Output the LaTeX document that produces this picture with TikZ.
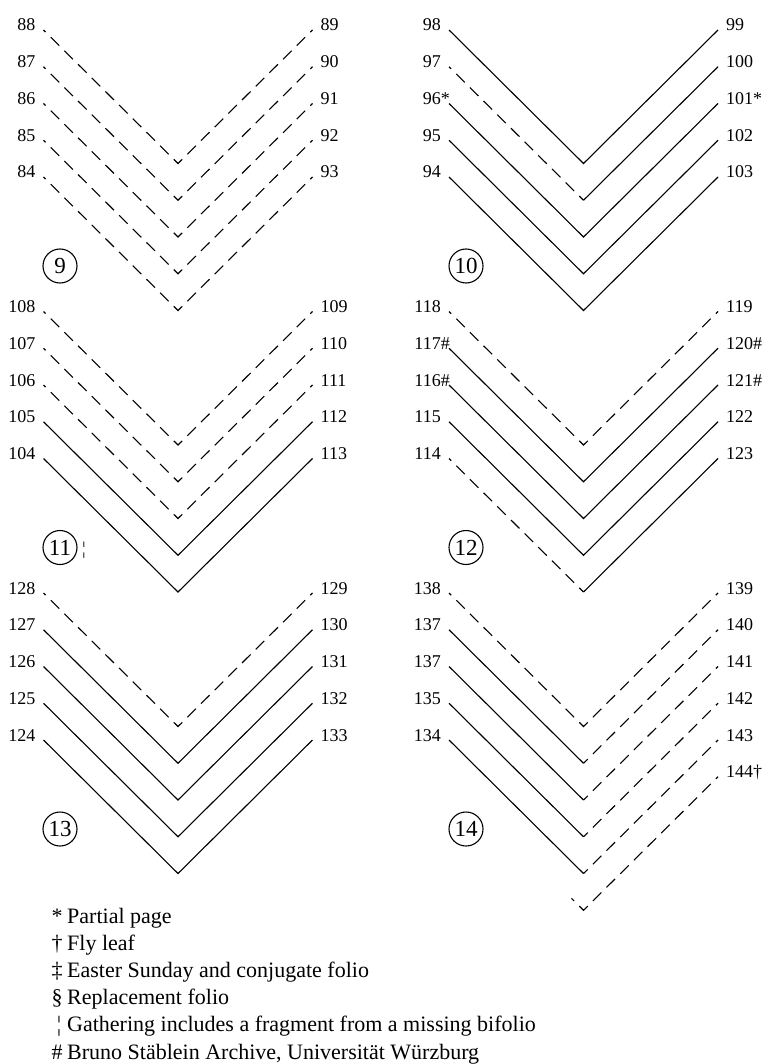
\documentclass[tikz,border=0pt]{standalone}
\usepackage{fontspec}
\setmainfont{Liberation Serif}
\begin{document}
\begin{tikzpicture}[x=1pt,y=-1pt]
\tikzset{
  fold/.style={line width=1.1pt, line join=miter, line cap=butt},
  dsh/.style={fold, dash pattern=on 12pt off 7.25pt, dash phase=9pt},
  lbl/.style={font=\fontsize{18}{18}\selectfont, inner sep=0pt},
  gnum/.style={circle, draw, line width=1.1pt, minimum size=34pt, inner sep=0pt, font=\fontsize{23}{23}\selectfont},
  leg/.style={font=\fontsize{22}{22}\selectfont, inner sep=0pt, anchor=base west},
  legsym/.style={font=\fontsize{22}{22}\selectfont, inner sep=0pt, anchor=base},
}
\fill[white] (0,0) rectangle (767,1064);
\useasboundingbox (0,0) rectangle (767,1064);
% #1 name, #2 Lx, #3 Rx, #4 y, #5 left label, #6 right label
\newcommand\bif[6]{%
  \coordinate (#1l) at (#2,#4);
  \coordinate (#1v) at ({(#2+#3)/2},{#4+133.5});
  \coordinate (#1r) at (#3,#4);
  \node[lbl, anchor=base east] at ({#2-8},{#4+1}) {#5};
  \node[lbl, anchor=base west] at ({#3+8},{#4+1}) {#6};}
\newcommand\Vj[2]{\draw[#2] (#1l) -- (#1v) -- (#1r);}
\newcommand\Vs[3]{\draw[#2] (#1l) -- (#1v); \draw[#3] (#1r) -- (#1v);}
% ---------- panel 9
\bif{a0}{43.5}{312.5}{30}{88}{89}\Vj{a0}{dsh}
\bif{a1}{43.5}{312.5}{66.75}{87}{90}\Vj{a1}{dsh}
\bif{a2}{43.5}{312.5}{103.5}{86}{91}\Vj{a2}{dsh}
\bif{a3}{43.5}{312.5}{140.25}{85}{92}\Vj{a3}{dsh}
\bif{a4}{43.5}{312.5}{177}{84}{93}\Vj{a4}{dsh}
\node[gnum] (g9) at (60,266) {9};
% ---------- panel 10
\bif{b0}{449}{718}{30}{98}{99}\Vj{b0}{fold}
\bif{b1}{449}{718}{66.75}{97}{100}\Vs{b1}{dsh}{fold}
\bif{b2}{449}{718}{103.5}{96\rlap{*}}{101*}\Vj{b2}{fold}
\bif{b3}{449}{718}{140.25}{95}{102}\Vj{b3}{fold}
\bif{b4}{449}{718}{177}{94}{103}\Vj{b4}{fold}
\node[gnum] (g10) at (466,266) {10};
% ---------- panel 11
\bif{c0}{43.5}{312.5}{311.5}{108}{109}\Vj{c0}{dsh}
\bif{c1}{43.5}{312.5}{348.25}{107}{110}\Vj{c1}{dsh}
\bif{c2}{43.5}{312.5}{385}{106}{111}\Vj{c2}{dsh}
\bif{c3}{43.5}{312.5}{421.75}{105}{112}\Vj{c3}{fold}
\bif{c4}{43.5}{312.5}{458.5}{104}{113}\Vj{c4}{fold}
\node[gnum] (g11) at (60,547.5) {11};
\node[lbl] (bb) at (84,550) {¦};
% ---------- panel 12
\bif{d0}{449}{718}{311.5}{118}{119}\Vj{d0}{dsh}
\bif{d1}{449}{718}{348.25}{117\rlap{\#}}{120\#}\Vj{d1}{fold}
\bif{d2}{449}{718}{385}{116\rlap{\#}}{121\#}\Vj{d2}{fold}
\bif{d3}{449}{718}{421.75}{115}{122}\Vj{d3}{fold}
\bif{d4}{449}{718}{458.5}{114}{123}\Vs{d4}{dsh}{fold}
\node[gnum] (g12) at (466,547.5) {12};
% ---------- panel 13
\bif{e0}{43.5}{312.5}{593}{128}{129}\Vj{e0}{dsh}
\bif{e1}{43.5}{312.5}{629.75}{127}{130}\Vj{e1}{fold}
\bif{e2}{43.5}{312.5}{666.5}{126}{131}\Vj{e2}{fold}
\bif{e3}{43.5}{312.5}{703.25}{125}{132}\Vj{e3}{fold}
\bif{e4}{43.5}{312.5}{740}{124}{133}\Vj{e4}{fold}
\node[gnum] (g13) at (60,829) {13};
% ---------- panel 14
\bif{f0}{449}{718}{593}{138}{139}\Vj{f0}{dsh}
\bif{f1}{449}{718}{629.75}{137}{140}\Vs{f1}{fold}{dsh}
\bif{f2}{449}{718}{666.5}{137}{141}\Vs{f2}{fold}{dsh}
\bif{f3}{449}{718}{703.25}{135}{142}\Vs{f3}{fold}{dsh}
\bif{f4}{449}{718}{740}{134}{143}\Vs{f4}{fold}{dsh}
\coordinate (f5v) at (583.5,910.25);
\coordinate (f5r) at (718,776.75);
\coordinate (f5s) at (571.5,898.3);
\node[lbl, anchor=base west] at (726,777.75) {144†};
\draw[dsh] (f5r) -- (f5v) -- (f5s);
\node[gnum] (g14) at (466,829) {14};
% ---------- legend
\node[legsym] (s1) at (57,923) {*};
\node[leg] (t1) at (67,923) {Partial page};
\node[legsym] (s2) at (57,950.2) {†};
\node[leg] (t2) at (67,950.2) {Fly leaf};
\node[legsym] (s3) at (57,977.4) {‡};
\node[leg] (t3) at (67,977.4) {Easter Sunday and conjugate folio};
\node[legsym] (s4) at (57,1004.6) {§};
\node[leg] (t4) at (67,1004.6) {Replacement folio};
\node[legsym] (s5) at (59,1031.8) {¦};
\node[leg] (t5) at (67,1031.8) {Gathering includes a fragment from a missing bifolio};
\node[legsym] (s6) at (57,1059) {\#};
\node[leg] (t6) at (67,1059) {Bruno Stäblein Archive, Universität Würzburg};
\end{tikzpicture}
\end{document}
